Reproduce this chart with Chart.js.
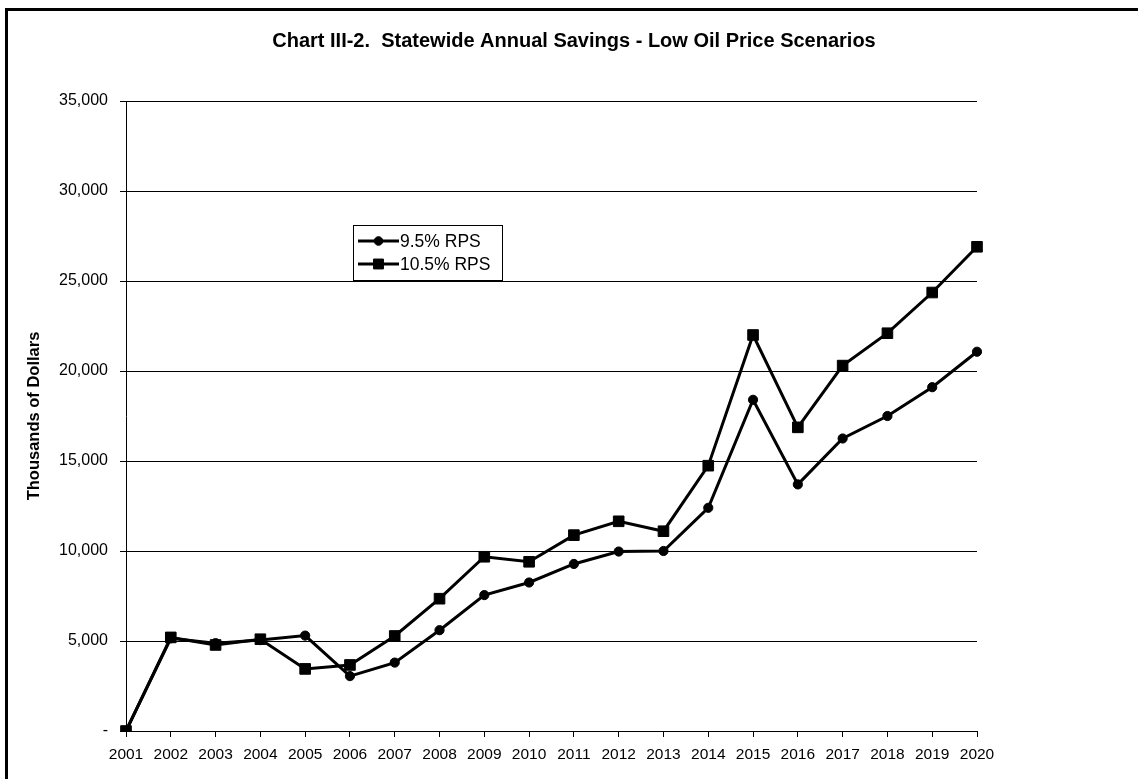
<!DOCTYPE html>
<html>
<head>
<meta charset="utf-8">
<script src="https://cdn.jsdelivr.net/npm/chart.js@4.4.1/dist/chart.umd.min.js"></script>
<style>
  html, body { margin: 0; padding: 0; background: #fff; }
  #wrap { width: 1138px; height: 779px; position: relative; }
</style>
</head>
<body>
<div id="wrap"><canvas id="c" width="1138" height="779"></canvas></div>
<script>
const chartTitle = 'Chart III-2.  Statewide Annual Savings - Low Oil Price Scenarios';
const yAxisTitle = 'Thousands of Dollars';
const years = ['2001','2002','2003','2004','2005','2006','2007','2008','2009','2010',
               '2011','2012','2013','2014','2015','2016','2017','2018','2019','2020'];
const rps95Label = '9.5% RPS';
const rps95 = [0, 5150, 4880, 5050, 5300, 3050, 3800, 5600, 7550, 8250,
               9280, 9970, 10000, 12400, 18400, 13700, 16250, 17500, 19100, 21070];
const rps105Label = '10.5% RPS';
const rps105 = [0, 5200, 4780, 5100, 3450, 3670, 5280, 7350, 9680, 9400,
                10880, 11650, 11100, 14740, 22000, 16870, 20300, 22100, 24360, 26900];
const yMin = 0, yMax = 35000, yStep = 5000;

const FONT = "'Liberation Sans', Arial, Helvetica, sans-serif";

const frame = {
  id: 'frame',
  beforeDraw(chart) {
    const ctx = chart.ctx;
    ctx.save();
    ctx.fillStyle = '#fff';
    ctx.fillRect(0, 0, chart.width, chart.height);
    ctx.restore();
  },
  afterDraw(chart) {
    const ctx = chart.ctx;
    ctx.save();
    ctx.strokeStyle = '#000';
    ctx.lineWidth = 3;
    ctx.strokeRect(6.5, 9.5, chart.width + 20, chart.height + 20);
    ctx.fillStyle = '#000';
    ctx.font = 'bold 20px ' + FONT;
    ctx.textAlign = 'center';
    ctx.textBaseline = 'alphabetic';
    ctx.fillText(chartTitle, 574, 47);
    ctx.restore();
  }
};

const boxLegend = {
  id: 'boxLegend',
  afterDatasetsDraw(chart) {
    const ctx = chart.ctx;
    const x0 = 353.5, y0 = 225.5, w = 149, h = 55;
    ctx.save();
    ctx.fillStyle = '#fff';
    ctx.fillRect(x0, y0, w, h);
    ctx.strokeStyle = '#000';
    ctx.lineWidth = 1;
    ctx.strokeRect(x0, y0, w, h);
    const rows = [241, 264];
    chart.data.datasets.forEach((ds, i) => {
      const y = rows[i];
      ctx.strokeStyle = ds.borderColor;
      ctx.lineWidth = ds.borderWidth;
      ctx.beginPath();
      ctx.moveTo(358, y);
      ctx.lineTo(399, y);
      ctx.stroke();
      ctx.fillStyle = ds.pointBackgroundColor;
      ctx.strokeStyle = ds.pointBorderColor;
      ctx.lineWidth = 1;
      Chart.helpers.drawPoint(ctx, {
        pointStyle: ds.pointStyle,
        rotation: 0,
        radius: ds.pointStyle === 'rect' ? 7 : 4.3,
        borderWidth: 1
      }, 378.5, y);
      ctx.fillStyle = '#000';
      ctx.font = '17.5px ' + FONT;
      ctx.textBaseline = 'middle';
      ctx.textAlign = 'left';
      ctx.fillText(ds.label, 400, y + 1);
    });
    ctx.restore();
  }
};

new Chart(document.getElementById('c'), {
  type: 'line',
  data: {
    labels: years,
    datasets: [
      {
        label: rps95Label,
        data: rps95,
        borderColor: '#000',
        backgroundColor: '#000',
        borderWidth: 3,
        pointStyle: 'circle',
        pointRadius: 4.6,
        pointBorderWidth: 1,
        pointBackgroundColor: '#000',
        pointBorderColor: '#000',
        tension: 0,
        order: 1
      },
      {
        label: rps105Label,
        data: rps105,
        borderColor: '#000',
        backgroundColor: '#000',
        borderWidth: 3,
        pointStyle: 'rect',
        pointRadius: 7.5,
        pointBorderWidth: 1,
        pointBackgroundColor: '#000',
        pointBorderColor: '#000',
        tension: 0,
        order: 0
      }
    ]
  },
  options: {
    responsive: false,
    animation: false,
    devicePixelRatio: 1,
    layout: { padding: { left: 0, right: 161, top: 101, bottom: 0 } },
    plugins: {
      legend: { display: false },
      tooltip: { enabled: false },
      title: { display: false }
    },
    scales: {
      x: {
        type: 'category',
        offset: false,
        afterFit(scale) { scale.height = 48; },
        grid: {
          display: true,
          drawOnChartArea: false,
          drawTicks: true,
          tickLength: 6,
          tickColor: '#000',
          color: '#000'
        },
        border: { display: true, color: '#000', width: 1 },
        ticks: {
          color: '#000',
          font: { family: FONT, size: 15.5 },
          padding: 8,
          maxRotation: 0,
          autoSkip: false
        }
      },
      y: {
        min: yMin,
        max: yMax,
        afterFit(scale) { scale.width = 126; },
        grid: {
          color: '#000',
          lineWidth: 1,
          drawTicks: true,
          tickLength: 6,
          tickColor: '#000'
        },
        border: { display: true, color: '#000', width: 1 },
        ticks: {
          stepSize: yStep,
          color: '#000',
          font: { family: FONT, size: 16 },
          padding: 12,
          callback: (v) => v === 0 ? '-' : v.toLocaleString('en-US')
        },
        title: {
          display: true,
          text: yAxisTitle,
          color: '#000',
          font: { family: FONT, size: 16.5, weight: 'bold' },
          padding: { top: 25, bottom: 0 }
        }
      }
    }
  },
  plugins: [frame, boxLegend]
});
</script>
</body>
</html>
